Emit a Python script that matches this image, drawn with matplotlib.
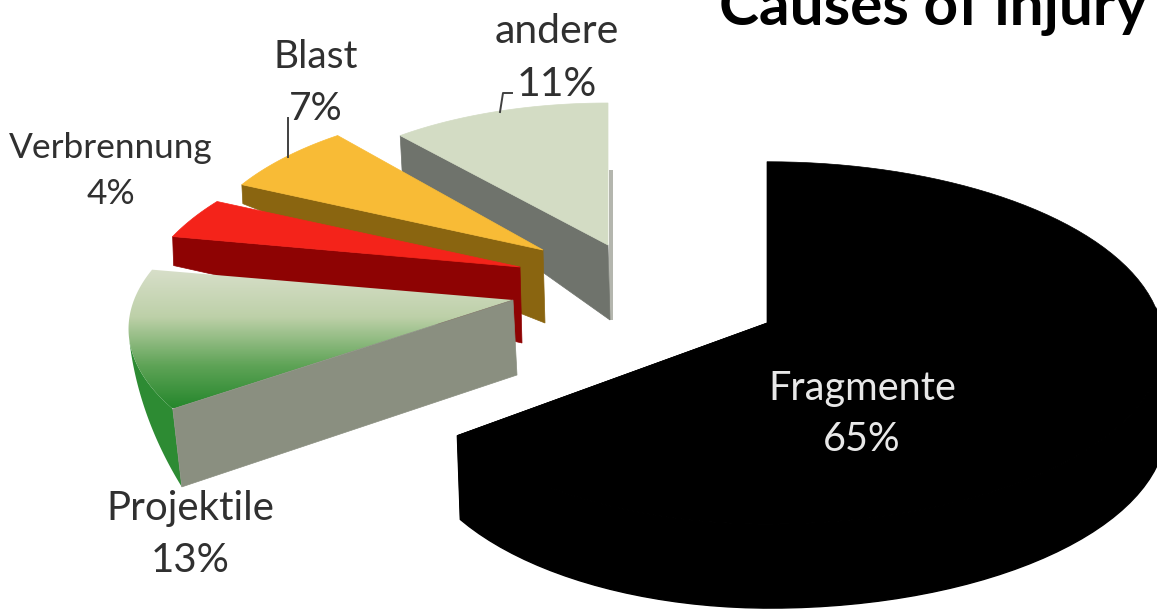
import numpy as np
import matplotlib
matplotlib.use('Agg')
import matplotlib.pyplot as plt
from matplotlib.colors import LinearSegmentedColormap
from matplotlib.patches import Polygon

labels = ['Fragmente', 'Projektile', 'Verbrennung', 'Blast', 'andere']
values = [65, 13, 4, 7, 11]

# one wedge per slice, drawn back to front below
apex_x = [767, 513, 520, 543, 608]
apex_y = [323, 300, 267, 250, 245]
radius_x = [358, 379, 370, 347, 326]
radius_y = [179, 167, 170, 160, 142]
persp = [0.11, 0.168, 0.247, 0.10, 0.0]
depth_apex = [86, 75, 76, 73, 75]
depth_rim = [84, 78, 29, 19, 37]
shift_apex = [2, 4, 2, 2, 2]
shift_rim = [3, 9, 1, 1, 2]
top_colors = ['#000000', None, '#f4231a', '#f8bb36', '#d3dcc4']
side_colors = ['#000000', '#8a8f80', '#8e0303', '#8a6510', '#6f736c']

label_x = [862, 190, 111, 316, 557]
name_y = [400, 520, 158, 68, 43]
pct_y = [451, 572, 204, 120, 96]
label_size = [28.5, 29, 25.4, 28, 29.5]
label_colors = ['#e8e8e8', '#303030', '#303030', '#303030', '#303030']

plt.rcParams['font.family'] = ['Lato', 'DejaVu Sans']

fig = plt.figure(figsize=(11.57, 6.12), dpi=100)
ax = fig.add_axes([0, 0, 1, 1])


def rim(i, theta):
    # theta in degrees, perspective makes the front of the pie bigger
    t = np.radians(theta)
    scale = 1 + persp[i] * np.sin(t)
    rx = radius_x[i] * np.where(np.cos(t) > 0, 1.1, 1.0)
    x = apex_x[i] + rx * np.cos(t) / scale
    y = apex_y[i] - radius_y[i] * np.sin(t) / scale
    return x, y


def draw_wall(i, start, end, color, grow_in=False, lw=1):
    thetas = np.linspace(start, end, 60)
    x, y = rim(i, thetas)
    grow = np.linspace(0, 1, 60) if grow_in else np.ones(60)
    low = np.column_stack([x + shift_rim[i] * grow, y + depth_rim[i] * grow])
    ax.add_patch(Polygon(np.vstack([np.column_stack([x, y]), low[::-1]]), fc=color, ec=color, lw=lw))


def draw_wedge(i, cut, other):
    # cut is the angle whose flat face looks at the viewer
    x, y = rim(i, np.linspace(cut, other, 100))
    top = np.column_stack([np.r_[apex_x[i], x], np.r_[apex_y[i], y]])
    side = [(apex_x[i], apex_y[i]), (x[0], y[0]),
            (x[0] + shift_rim[i], y[0] + depth_rim[i]),
            (apex_x[i] + shift_apex[i], apex_y[i] + depth_apex[i])]

    if i == 0:
        draw_wall(i, cut, 5, 'black')
    if i == 1:
        draw_wall(i, 192, cut, '#2d8b33', grow_in=True, lw=0)

    ax.add_patch(Polygon(side, fc=side_colors[i], ec=side_colors[i], lw=0.5, zorder=3 if i == 1 else 1))
    if top_colors[i] is None:
        patch = Polygon(top, fc='none', ec='none')
        ax.add_patch(patch)
        cmap = LinearSegmentedColormap.from_list(
            'proj', [(0, '#d8dfca'), (0.35, '#bdd0a8'), (0.7, '#5ea356'), (1, '#26872d')])
        img = ax.imshow(np.linspace(0, 1, 200).reshape(-1, 1), cmap=cmap, aspect='auto',
                        extent=(120, 520, 408, 268), zorder=2)
        img.set_clip_path(patch)
    else:
        ax.add_patch(Polygon(top, fc=top_colors[i], ec=top_colors[i], lw=0.5))


# angles start at the top and run clockwise
bounds = 90 - np.cumsum(values) * 3.6
cuts = [bounds[0]] + [b + 360 for b in bounds[:-1]]
others = [90] + [b + 360 for b in bounds[1:]]

# slim grey edge behind andere
ax.fill_between([609, 613], [170, 170], [320, 320], color='#b4b6ae', lw=0)

for i in [4, 3, 2, 1, 0]:
    draw_wedge(i, cuts[i], others[i])

# leader lines
ax.plot([288, 288], [118, 157], color='#404040', lw=1.4, zorder=4)
ax.plot([500, 503, 512], [112, 93, 93], color='#404040', lw=1.4, zorder=4)

for i in range(len(labels)):
    ax.text(label_x[i], name_y[i], labels[i], color=label_colors[i], fontsize=label_size[i],
            ha='center', va='baseline', zorder=5)
    ax.text(label_x[i], pct_y[i], str(values[i]) + '%', color=label_colors[i], fontsize=label_size[i],
            ha='center', va='baseline', zorder=5)

# the title runs off the top edge in the original as well
ax.text(719, 25, 'Causes of injury', fontsize=43.5, fontweight='bold', color='black',
        ha='left', va='baseline', zorder=5)

ax.set_xlim(0, 1157)
ax.set_ylim(612, 0)
ax.axis('off')
fig.savefig('out.png', dpi=100)
